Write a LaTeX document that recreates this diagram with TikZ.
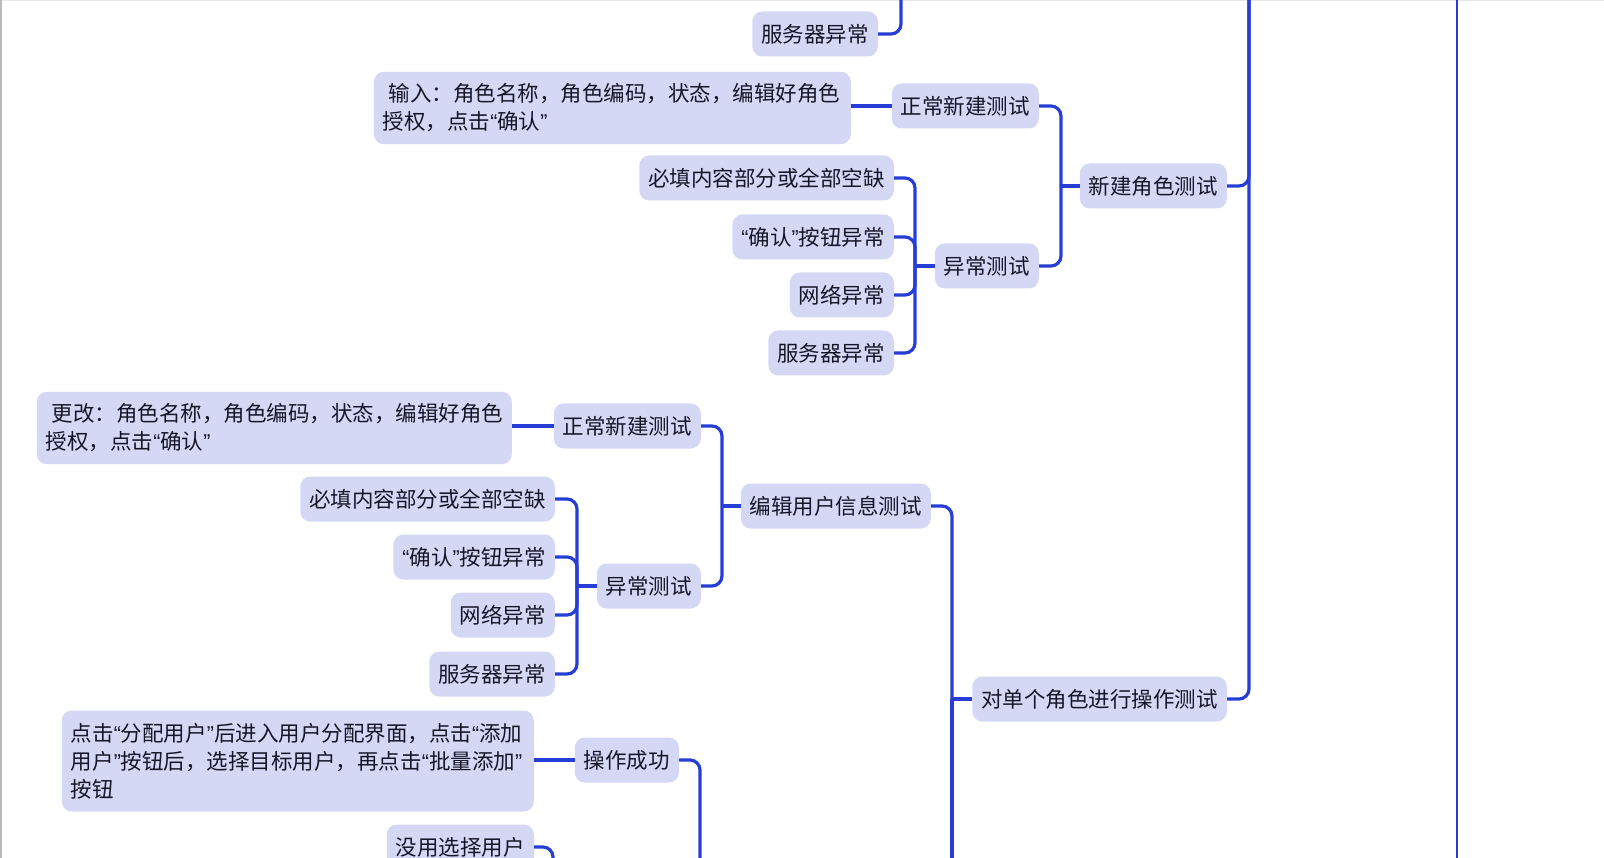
\documentclass[tikz,border=0pt]{standalone}
\usepackage{fontspec}
\setmainfont{Noto Sans CJK SC}
\newfontfamily\quotefont{Liberation Sans}
\newcommand{\lquo}{{\quotefont “}}
\newcommand{\rquo}{{\quotefont ”}}
\definecolor{topicfill}{RGB}{213,216,245}
\definecolor{linkblue}{RGB}{38,62,214}
\definecolor{topictext}{RGB}{22,22,40}

\begin{document}
\begin{tikzpicture}[
    x=1pt, y=-1pt,
    every node/.style={font=\fontsize{21.5pt}{28pt}\selectfont, text=topictext},
    topic/.style={fill=topicfill, rounded corners=10pt, inner xsep=9pt, inner ysep=12pt, minimum height=45pt, anchor=east},
    note/.style={topic, align=left},
    link/.style={draw=linkblue, line width=3.2pt, rounded corners=10pt}
]
    \useasboundingbox (0,0) rectangle (1604,858);
    \clip (0,0) rectangle (1604,858);
    \fill[white] (0,0) rectangle (1604,858);

    % window edges
    \fill[black!27] (0,0) rectangle (2,858);
    \fill[black!9] (2,0) rectangle (1604,1.5);

    % ==========================
    % TOP: 新建角色测试
    % ==========================
    \node[topic] (S0) at (878,34) {服务器异常};
    \coordinate (S0up) at (901,-20);
    \draw[link] (S0.east) -| (S0up);

    \node[topic] (N1) at (1227,186) {新建角色测试};
    \node[topic] (N1a) at (1039,106) {正常新建测试};
    \node[topic] (N1b) at (1039,266) {异常测试};
    \node[note, text width=459pt, yshift=-2pt, minimum height=72pt] (N1in) at (851,106)
        {\hspace*{6pt}输入：角色名称，角色编码，状态，编辑好角色\\授权，点击\lquo 确认\rquo};
    \draw[link] (N1in.east |- N1a.west) -- (N1a.west);

    \coordinate (J1) at (1061,186);
    \draw[link] (N1a.east) -| (J1);
    \draw[link] (N1b.east) -| (J1);
    \draw[link] (J1) -- (N1.west);

    \coordinate (J1b) at (915,266);
    \foreach \i/\y/\txt in {
        1/178/必填内容部分或全部空缺,
        2/237/{\lquo 确认\rquo 按钮异常},
        3/295/网络异常,
        4/353/服务器异常}
    {
        \node[topic] (P\i) at (894,\y) {\txt};
        \draw[link] (P\i.east) -| (J1b);
    }
    \draw[link] (J1b) -- (N1b.west);

    % ==========================
    % MIDDLE: 编辑用户信息测试
    % ==========================
    \node[topic] (E1) at (931,506) {编辑用户信息测试};
    \node[topic] (E1a) at (701,426) {正常新建测试};
    \node[topic] (E1b) at (701,586) {异常测试};
    \node[note, text width=457pt, yshift=-2pt, minimum height=72pt] (E1in) at (512,426)
        {\hspace*{6pt}更改：角色名称，角色编码，状态，编辑好角色\\授权，点击\lquo 确认\rquo};
    \draw[link] (E1in.east |- E1a.west) -- (E1a.west);

    \coordinate (J2) at (722,506);
    \draw[link] (E1a.east) -| (J2);
    \draw[link] (E1b.east) -| (J2);
    \draw[link] (J2) -- (E1.west);

    \coordinate (J2b) at (577,586);
    \foreach \i/\y/\txt in {
        1/499/必填内容部分或全部空缺,
        2/557/{\lquo 确认\rquo 按钮异常},
        3/615/网络异常,
        4/674/服务器异常}
    {
        \node[topic] (Q\i) at (555,\y) {\txt};
        \draw[link] (Q\i.east) -| (J2b);
    }
    \draw[link] (J2b) -- (E1b.west);

    % ==========================
    % RIGHT: 对单个角色进行操作测试
    % ==========================
    \node[topic] (O1) at (1227,699) {对单个角色进行操作测试};
    \coordinate (J3) at (952,699);
    \coordinate (J3down) at (952,880);
    \draw[link] (E1.east) -| (J3);
    \draw[link] (J3) -- (O1.west);
    \draw[link] (J3) -- (J3down);

    \coordinate (R1) at (1249,-20);
    \draw[link] (N1.east) -| (R1);
    \draw[link] (O1.east) -| (R1);

    \coordinate (R2top) at (1457,-20);
    \coordinate (R2bot) at (1457,880);
    \draw[link, line width=2.2pt] (R2top) -- (R2bot);

    % ==========================
    % BOTTOM: 分配用户
    % ==========================
    \node[topic] (K1) at (679,760) {操作成功};
    \node[note, text width=454pt, yshift=-1pt, minimum height=101pt] (K1in) at (534,760)
        {点击\lquo 分配用户\rquo 后进入用户分配界面，点击\lquo 添加\\用户\rquo 按钮后，选择目标用户，再点击\lquo 批量添加\rquo\\按钮};
    \draw[link] (K1in.east |- K1.west) -- (K1.west);
    \coordinate (K1down) at (700,880);
    \draw[link] (K1.east) -| (K1down);

    \node[topic] (K2) at (534,847) {没用选择用户};
    \coordinate (K2down) at (553,880);
    \draw[link] (K2.east) -| (K2down);

\end{tikzpicture}
\end{document}
